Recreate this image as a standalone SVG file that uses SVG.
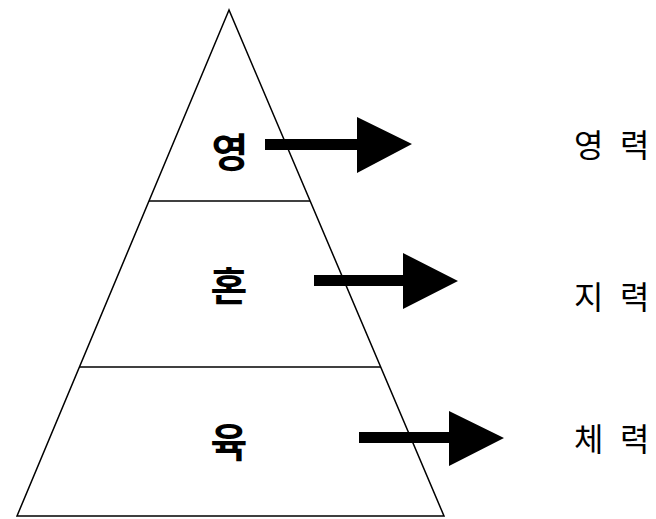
<svg xmlns="http://www.w3.org/2000/svg" width="656" height="519" viewBox="0 0 656 519">
<style>
.ln{fill:none;stroke:#000;stroke-width:1.5}
.big{font-family:"Noto Sans CJK KR","Noto Sans CJK SC",sans-serif;font-size:40px;font-weight:700;fill:#000;text-anchor:middle;dominant-baseline:central}
.lab{font-family:"Noto Sans CJK KR","Noto Sans CJK SC",sans-serif;font-size:32px;font-weight:400;fill:#000;dominant-baseline:central}
.arr{fill:#000;stroke:none}
</style>
<rect width="656" height="519" fill="#fff"/>
<g id="pyramid">
<polygon class="ln" points="229,10 17,516 444,516"/>
<line class="ln" x1="149" y1="201" x2="310" y2="201"/>
<line class="ln" x1="79" y1="367" x2="381" y2="367"/>
</g>
<g id="node-top"><text class="big" x="230" y="150">영</text></g>
<g id="node-mid"><text class="big" x="229" y="284">혼</text></g>
<g id="node-bot"><text class="big" x="229" y="440">육</text></g>
<g id="connectors">
<polygon class="arr" points="265,139 357,139 357,117 412,144 357,173 357,150 265,150"/>
<polygon class="arr" points="314,275 403,275 403,253 458,281 403,309 403,286 314,286"/>
<polygon class="arr" points="359,432 449,432 449,411 504,438 449,466 449,443 359,443"/>
</g>
<g id="label-1"><text class="lab" y="143"><tspan x="574">영</tspan><tspan x="620">력</tspan></text></g>
<g id="label-2"><text class="lab" y="295"><tspan x="574">지</tspan><tspan x="620">력</tspan></text></g>
<g id="label-3"><text class="lab" y="437"><tspan x="574">체</tspan><tspan x="620">력</tspan></text></g>
</svg>
